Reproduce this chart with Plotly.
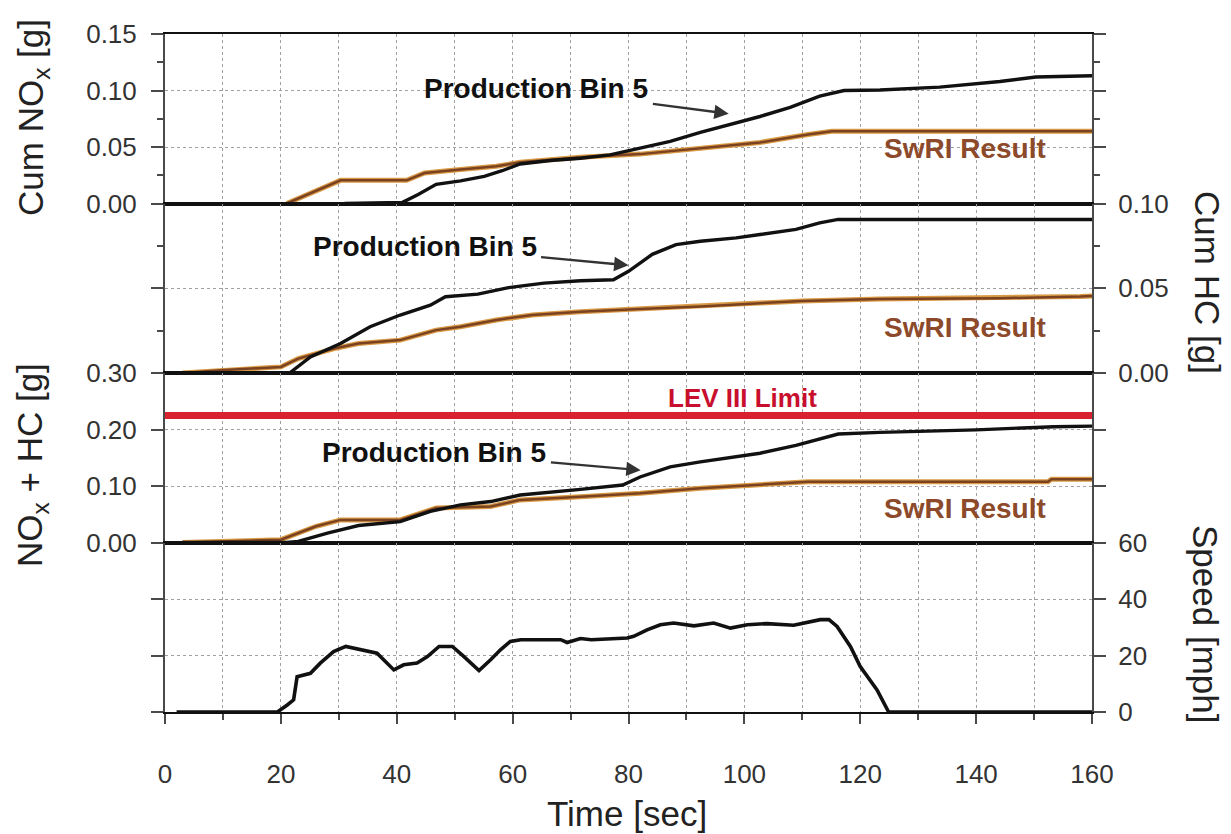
import plotly.graph_objects as go
from plotly.subplots import make_subplots

# ---- data ---------------------------------------------------------------
# Cumulative NOx [g]
t_nox_prod = [31, 35, 41, 43.7, 46.8, 51, 55.1, 58.2, 61.3, 66.5, 71.7, 76.8, 82, 87.2,
              92.4, 97.5, 102.7, 107.9, 113, 117.2, 123.4, 133.7, 144.1, 150.3, 160]
nox_prod = [0, 0.0005, 0.001, 0.008, 0.017, 0.020, 0.024, 0.029, 0.035, 0.038, 0.040, 0.043,
            0.049, 0.055, 0.063, 0.070, 0.077, 0.085, 0.095, 0.100, 0.1005, 0.103, 0.108,
            0.112, 0.113]
t_nox_swri = [21, 25, 30.3, 41.7, 44.8, 51, 57.2, 61.3, 71.7, 82, 92.4, 102.7, 111, 115.1, 160]
nox_swri = [0, 0.009, 0.0205, 0.0205, 0.027, 0.030, 0.033, 0.0365, 0.041, 0.0437, 0.0487,
            0.054, 0.061, 0.064, 0.064]

# Cumulative HC [g]
t_hc_prod = [3, 21.5, 25.1, 30.3, 35.4, 40.6, 45.8, 48.4, 54, 59.3, 65.4, 71.7, 77.4, 80,
             84.1, 88.2, 92.4, 98.6, 102.7, 108.9, 113, 116.2, 160]
hc_prod = [0, 0, 0.0095, 0.0174, 0.0273, 0.0342, 0.040, 0.045, 0.0465, 0.0504, 0.053, 0.0544,
           0.055, 0.060, 0.070, 0.0757, 0.0777, 0.0797, 0.0817, 0.0847, 0.0886, 0.0906, 0.0906]
t_hc_swri = [3, 9.6, 20, 23, 29.2, 33.4, 40.6, 46.8, 51, 57.2, 63.4, 71.7, 82, 92.4, 102.7,
             110, 123.4, 144, 158, 160]
hc_swri = [0, 0.0016, 0.0036, 0.0085, 0.0144, 0.0174, 0.0194, 0.0253, 0.0273, 0.0313, 0.0342,
           0.0362, 0.0378, 0.0392, 0.0412, 0.0425, 0.0437, 0.0441, 0.0451, 0.0455]

# Cumulative NOx + HC [g]
t_sum_prod = [3, 21, 23, 28.2, 33.4, 40.6, 45.8, 51, 56.2, 61.3, 71.7, 79, 82, 87.2, 92.4,
              102.7, 108.9, 116.2, 123.4, 140, 153.4, 160]
sum_prod = [0, 0, 0.002, 0.017, 0.030, 0.037, 0.055, 0.0667, 0.0725, 0.084, 0.094, 0.1018,
            0.116, 0.134, 0.1427, 0.158, 0.172, 0.192, 0.195, 0.1994, 0.205, 0.206]
t_sum_swri = [3, 10, 20, 26.1, 30.3, 40.6, 46.8, 56.2, 61.3, 71.7, 82, 92.4, 102.7, 111,
              152.4, 153, 160]
sum_swri = [0, 0.002, 0.005, 0.0287, 0.040, 0.040, 0.061, 0.0637, 0.0754, 0.081, 0.087,
            0.096, 0.1018, 0.1076, 0.1076, 0.112, 0.112]
lev3_limit = 0.225

# Vehicle speed [mph]
t_speed = [2, 19.4, 21.1, 22.2, 22.8, 24, 25.1, 26.8, 29.1, 31.2, 33.7, 36.6, 39.5, 41.2,
           43.5, 45.3, 47.3, 49.6, 51.6, 54.2, 56.2, 57.9, 59.6, 61.4, 68.3, 69.4, 71.7,
           73.6, 79.8, 80.9, 83.2, 85.5, 87.8, 91.3, 94.7, 97.6, 100.5, 103.9, 108.5,
           111.4, 113.1, 114.6, 116, 118.3, 120, 122.9, 124.9, 160]
speed = [0, 0, 2.5, 4.3, 12.5, 13.1, 13.7, 17.3, 21.4, 23.2, 22.0, 20.8, 14.9, 16.7, 17.3,
         19.6, 23.2, 23.2, 19.6, 14.7, 18.5, 22, 25, 25.6, 25.6, 24.6, 26, 25.6, 26.2, 26.8,
         29.1, 30.9, 31.5, 30.5, 31.5, 29.7, 30.9, 31.3, 30.7, 32, 32.7, 32.7, 30.3, 23.2,
         16.1, 7.8, 0, 0]

x_ticks = [0, 20, 40, 60, 80, 100, 120, 140, 160]

# ---- styling --------------------------------------------------------------
FONT = "Liberation Sans, Arial, Helvetica, sans-serif"
BLACK = "#111111"
SWRI_CORE = "#7a4220"
SWRI_HALO = "#d99a45"
SWRI_TEXT = "#8c4a2a"
RED = "#d9222f"
AXIS = "#4a4a4a"
GRID = "#a0a0a0"

fig = make_subplots(rows=4, cols=1, shared_xaxes=True, vertical_spacing=0)


def add_pair(row, tp, vp, ts, vs):
    # SwRI result: orange halo under a dark brown core
    fig.add_trace(go.Scatter(x=ts, y=vs, mode="lines", line=dict(color=SWRI_HALO, width=5),
                             hoverinfo="skip", showlegend=False), row=row, col=1)
    fig.add_trace(go.Scatter(x=ts, y=vs, mode="lines", line=dict(color=SWRI_CORE, width=2.5),
                             name="SwRI Result", showlegend=False), row=row, col=1)
    fig.add_trace(go.Scatter(x=tp, y=vp, mode="lines", line=dict(color=BLACK, width=3.4),
                             name="Production Bin 5", showlegend=False), row=row, col=1)


add_pair(1, t_nox_prod, nox_prod, t_nox_swri, nox_swri)
add_pair(2, t_hc_prod, hc_prod, t_hc_swri, hc_swri)
fig.add_trace(go.Scatter(x=[0, 160], y=[lev3_limit, lev3_limit], mode="lines",
                         line=dict(color=RED, width=7), name="LEV III Limit",
                         showlegend=False), row=3, col=1)
add_pair(3, t_sum_prod, sum_prod, t_sum_swri, sum_swri)
fig.add_trace(go.Scatter(x=t_speed, y=speed, mode="lines", line=dict(color=BLACK, width=3.6),
                         name="Speed", showlegend=False), row=4, col=1)

tick_font = dict(family=FONT, size=26, color="#333333")

# shared x axes: frame lines on every panel, ticks/labels only at the bottom
for r in range(1, 5):
    bottom = r == 4
    fig.update_xaxes(
        row=r, col=1, range=[0, 160], showline=True, mirror=True, linecolor=BLACK,
        linewidth=2, showgrid=True, gridcolor=GRID, griddash="dot", gridwidth=1,
        tickvals=x_ticks, ticks="outside" if bottom else "", ticklen=10, tickwidth=2,
        tickcolor=AXIS, showticklabels=bottom, tickfont=tick_font, zeroline=False,
        ticklabelstandoff=28 if bottom else 0,
        minor=dict(dtick=10, tick0=0, showgrid=True, gridcolor=GRID, griddash="dot",
                   gridwidth=1, ticks="outside" if bottom else "", ticklen=6,
                   tickwidth=2, tickcolor=AXIS),
    )

y_common = dict(showline=True, mirror="ticks", linecolor=AXIS, linewidth=2, ticks="outside",
                ticklen=12, tickwidth=2, tickcolor=AXIS, tickfont=tick_font, zeroline=False,
                showgrid=True, gridcolor=GRID, griddash="dot", gridwidth=1)

fig.update_yaxes(row=1, col=1, range=[0, 0.15], side="left", ticklabelstandoff=9,
                 tickvals=[0, 0.05, 0.10, 0.15], ticktext=["0.00", "0.05", "0.10", "0.15"],
                 minor=dict(tickvals=[0.025, 0.075, 0.125], ticks="outside", ticklen=6,
                            tickwidth=2, tickcolor=AXIS), **y_common)
fig.update_yaxes(row=2, col=1, range=[0, 0.10], side="right", ticklabelstandoff=7,
                 tickvals=[0, 0.05, 0.10], ticktext=["0.00", "0.05", "0.10"],
                 minor=dict(tickvals=[0.025, 0.075], ticks="outside", ticklen=6,
                            tickwidth=2, tickcolor=AXIS), **y_common)
fig.update_yaxes(row=3, col=1, range=[0, 0.30], side="left", ticklabelstandoff=9,
                 tickvals=[0, 0.10, 0.20, 0.30], ticktext=["0.00", "0.10", "0.20", "0.30"],
                 **y_common)
fig.update_yaxes(row=4, col=1, range=[0, 60], side="right", ticklabelstandoff=7,
                 tickvals=[0, 20, 40, 60], ticktext=["0", "20", "40", "60"], **y_common)

# ---- labels -----------------------------------------------------------------
title_font = dict(family=FONT, size=35, color="#222222")
label_font = dict(family=FONT, size=28, color=BLACK)
swri_font = dict(family=FONT, size=28, color=SWRI_TEXT)

annotations = [
    dict(text="Cum NO<sub>x</sub> [g]", xref="paper", yref="paper", x=-0.1424, y=0.8776,
         textangle=-90, showarrow=False, font=title_font, xanchor="center", yanchor="middle"),
    dict(text="Cum HC [g]", xref="paper", yref="paper", x=1.1251, y=0.6327,
         textangle=90, showarrow=False, font=title_font, xanchor="center", yanchor="middle"),
    dict(text="NO<sub>x</sub> + HC [g]", xref="paper", yref="paper", x=-0.1435, y=0.3643,
         textangle=-90, showarrow=False, font=title_font, xanchor="center", yanchor="middle"),
    dict(text="Speed [mph]", xref="paper", yref="paper", x=1.1219, y=0.1298,
         textangle=90, showarrow=False, font=title_font, xanchor="center", yanchor="middle"),
    dict(text="Time [sec]", xref="paper", yref="paper", x=0.4984, y=-0.149,
         showarrow=False, font=title_font, xanchor="center", yanchor="middle"),
    dict(text="<b>SwRI Result</b>", xref="x", yref="y", x=138, y=0.0484,
         showarrow=False, font=swri_font),
    dict(text="<b>SwRI Result</b>", xref="x2", yref="y2", x=138, y=0.0267,
         showarrow=False, font=swri_font),
    dict(text="<b>SwRI Result</b>", xref="x3", yref="y3", x=138, y=0.0596,
         showarrow=False, font=swri_font),
    dict(text="<b>LEV III Limit</b>", xref="x3", yref="y3", x=99.7, y=0.255,
         showarrow=False, font=dict(family=FONT, size=26, color="#c8102e")),
]

# "Production Bin 5" labels with pointer arrows: (text centre) -> (arrow tip)
pointers = [
    ("x", "y", (64.1, 0.1016), (97.3, 0.0794)),
    ("x2", "y2", (44.8, 0.0748), (80.0, 0.0635)),
    ("x3", "y3", (46.5, 0.1596), (82.1, 0.128)),
]
for xr, yr, centre, tip in pointers:
    annotations.append(dict(text="<b>Production Bin 5</b>", font=label_font,
                            xref=xr, yref=yr, axref=xr, ayref=yr,
                            x=tip[0], y=tip[1], ax=centre[0], ay=centre[1], showarrow=True,
                            arrowhead=2, arrowsize=1.2, arrowwidth=2.4, arrowcolor="#333333",
                            standoff=0, borderpad=4))

fig.update_layout(
    width=1231, height=834,
    margin=dict(l=165, r=139, t=34, b=122),
    paper_bgcolor="white", plot_bgcolor="white",
    annotations=annotations,
    showlegend=False,
)

fig.write_html("out.html")
